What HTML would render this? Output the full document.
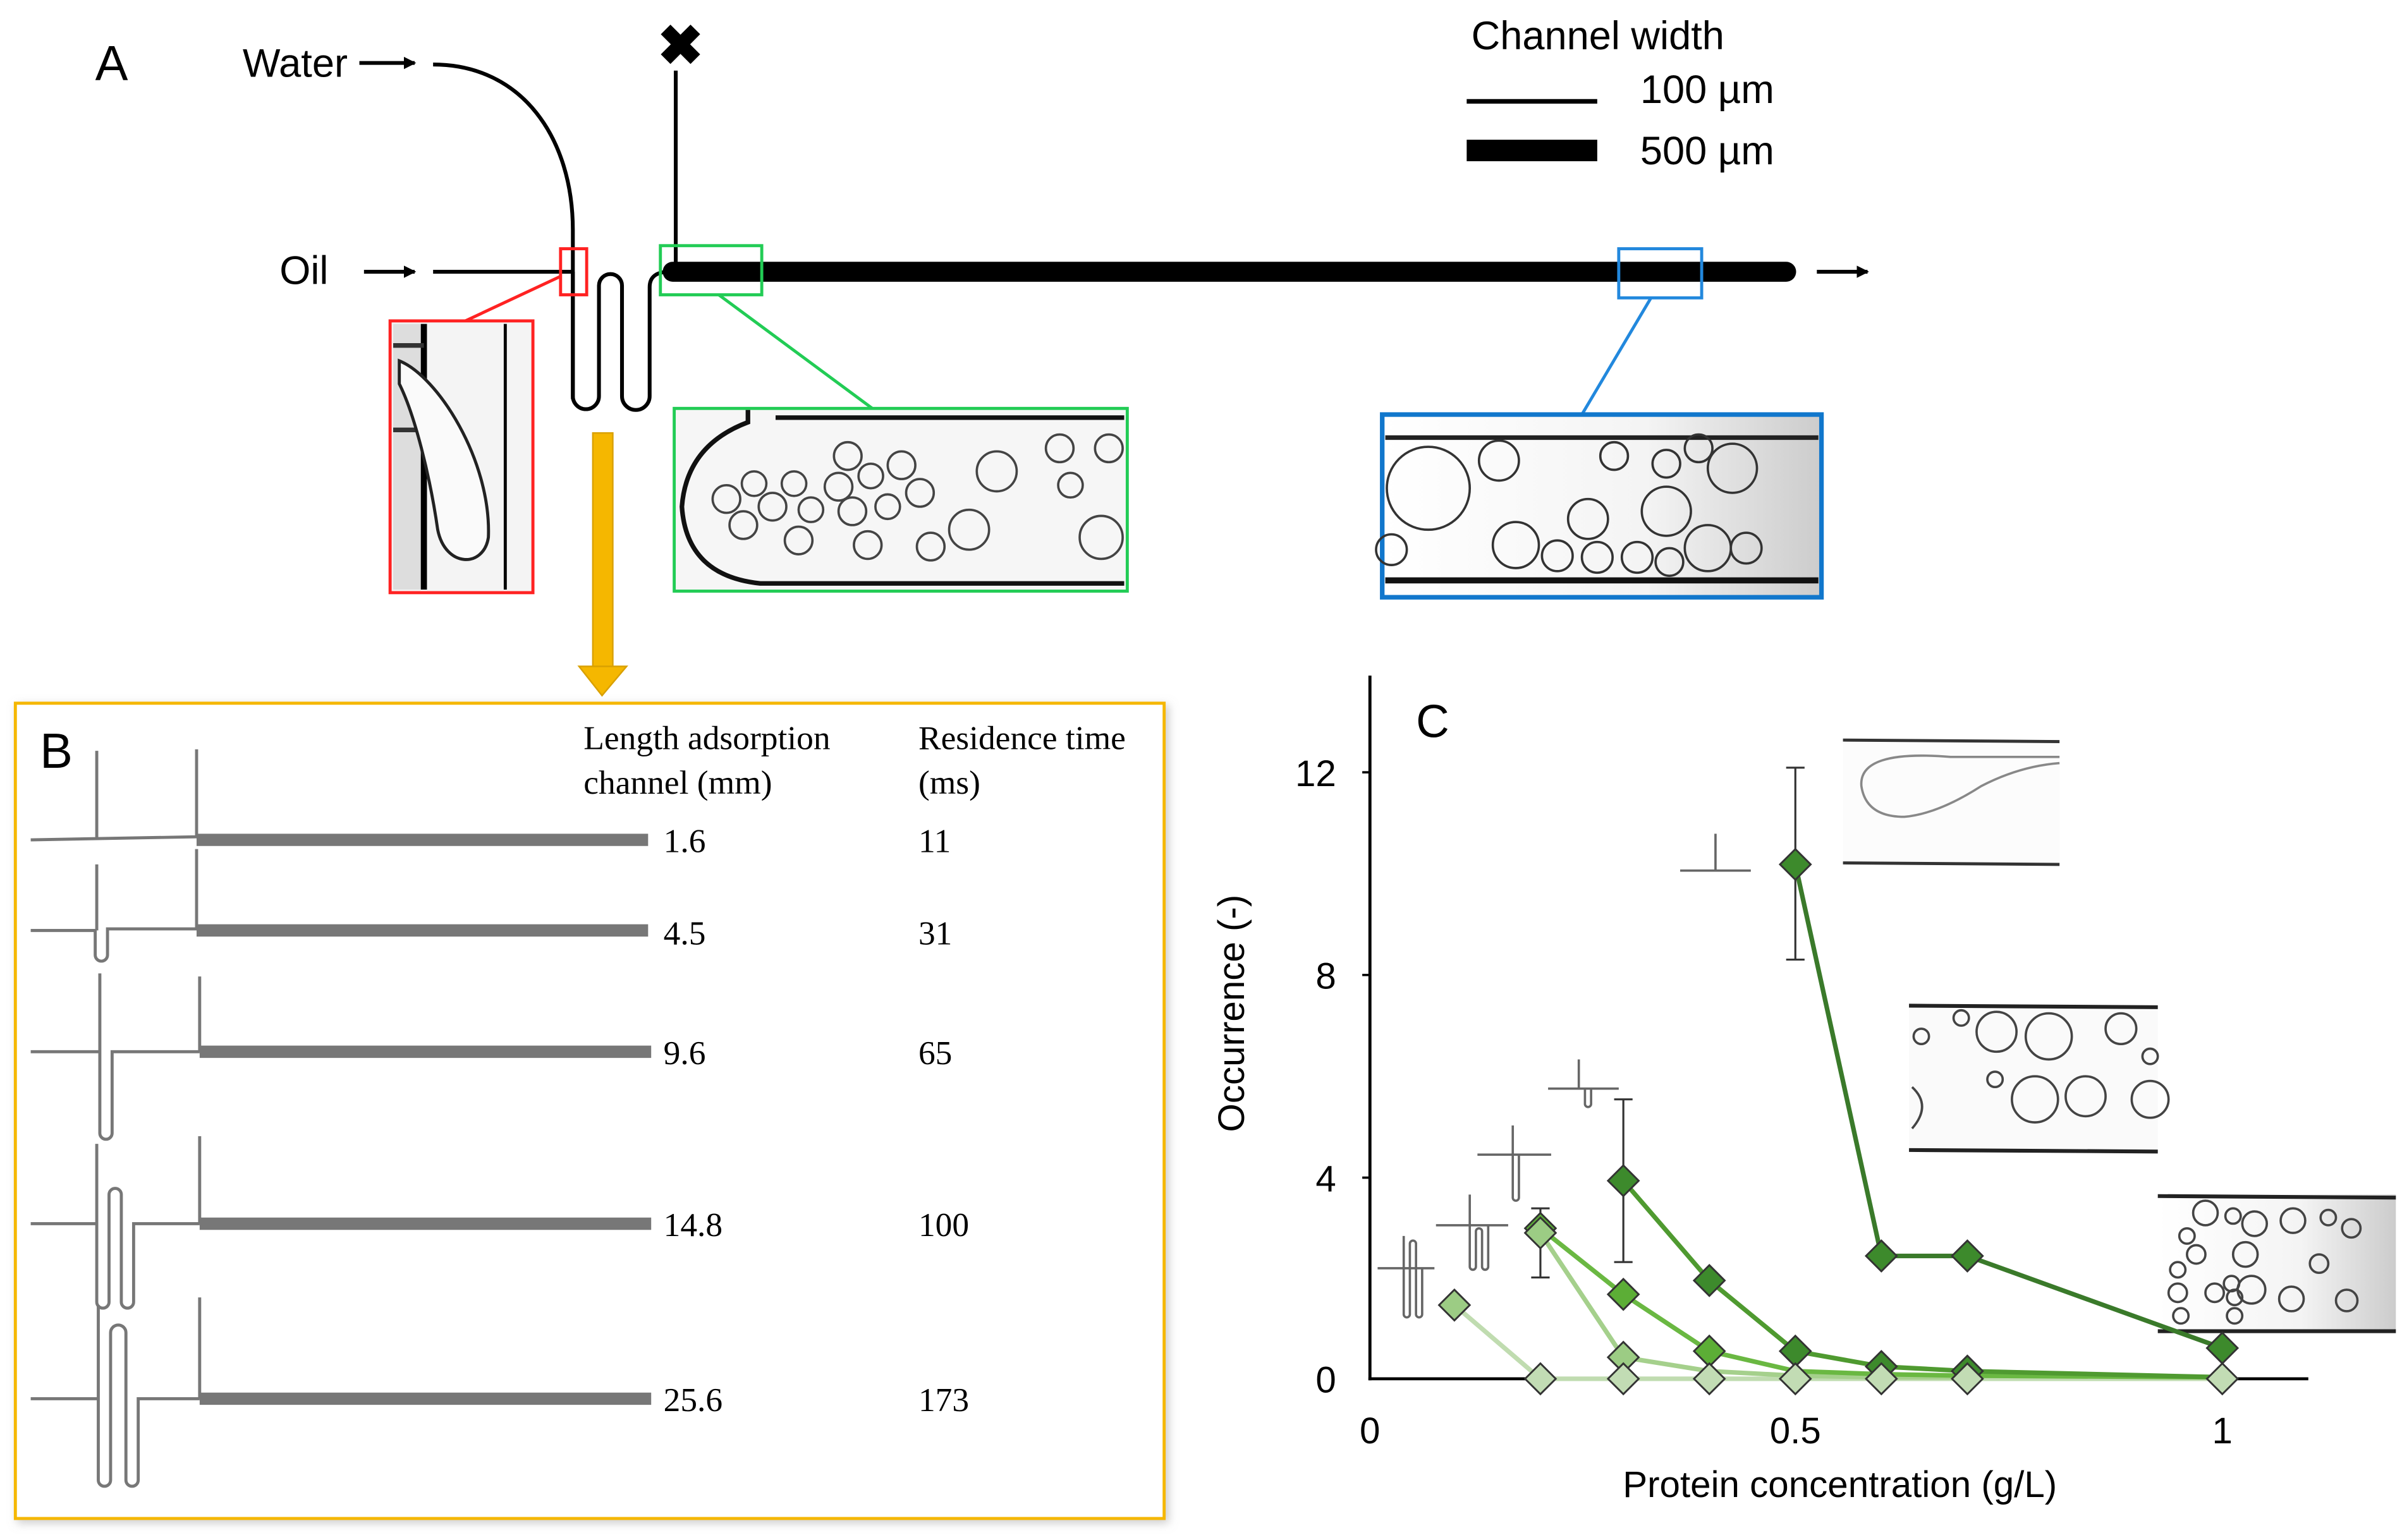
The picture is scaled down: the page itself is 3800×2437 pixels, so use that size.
<!DOCTYPE html>
<html><head><meta charset="utf-8"><style>
html,body{margin:0;padding:0;background:#fff;}
svg{display:block;}
text{font-family:"Liberation Sans",sans-serif;}
text.t,.t text{font-family:"Liberation Serif",serif;}
</style></head><body>
<svg width="3800" height="2437" viewBox="0 0 1564 1003" preserveAspectRatio="none" xmlns="http://www.w3.org/2000/svg">
<defs>
<marker id="ah" markerWidth="8" markerHeight="8" refX="7" refY="4" orient="auto" markerUnits="userSpaceOnUse"><path d="M0,0 L8,4 L0,8 z" fill="#000"/></marker>
<linearGradient id="gr" x1="0" x2="1"><stop offset="0" stop-color="#fff"/><stop offset="0.6" stop-color="#f4f4f4"/><stop offset="1" stop-color="#ccc"/></linearGradient>
<filter id="sh" x="-5%" y="-5%" width="110%" height="110%"><feDropShadow dx="2" dy="2" stdDeviation="3" flood-color="#999" flood-opacity="0.5"/></filter>
</defs>

<!-- Panel A -->
<text x="62" y="52" font-size="32">A</text>
<text x="158" y="50" font-size="26">Water</text>
<line x1="234" y1="41" x2="270" y2="41" stroke="#000" stroke-width="2.5" marker-end="url(#ah)"/>
<path d="M282,42 C340,42 373,90 373,150 V260" fill="none" stroke="#000" stroke-width="2.5"/>
<text x="428" y="42" font-size="36" font-weight="bold">✖</text>
<line x1="440" y1="46" x2="440" y2="177" stroke="#000" stroke-width="2.5"/>
<text x="182" y="185" font-size="26">Oil</text>
<line x1="237" y1="177" x2="270" y2="177" stroke="#000" stroke-width="2.5" marker-end="url(#ah)"/>
<line x1="282" y1="177" x2="373" y2="177" stroke="#000" stroke-width="2.5"/>
<path d="M373,177 V258 A8.5,8.5 0 0 0 390,258 V186 A7.5,7.5 0 0 1 405,186 V258 A9,9 0 0 0 423,258 V187 Q423,177 436,177" fill="none" stroke="#000" stroke-width="2.5"/>
<line x1="438" y1="177" x2="1163" y2="177" stroke="#000" stroke-width="13" stroke-linecap="round"/>
<line x1="1183" y1="177" x2="1216" y2="177" stroke="#000" stroke-width="2.5" marker-end="url(#ah)"/>

<!-- zoom boxes -->
<rect x="365" y="162" width="17" height="30" fill="none" stroke="#f22" stroke-width="2"/>
<line x1="365" y1="180" x2="303" y2="209" stroke="#f22" stroke-width="2"/>
<rect x="254" y="209" width="93" height="177" fill="#f4f4f4" stroke="#f22" stroke-width="2"/>
<rect x="256" y="211" width="20" height="173" fill="#ddd"/>
<line x1="276" y1="211" x2="276" y2="384" stroke="#000" stroke-width="4"/>
<line x1="329" y1="211" x2="329" y2="384" stroke="#000" stroke-width="2"/>
<line x1="256" y1="225" x2="276" y2="225" stroke="#333" stroke-width="3"/>
<line x1="256" y1="280" x2="276" y2="280" stroke="#333" stroke-width="3"/>
<path d="M260,235 C285,245 320,300 318,350 C315,370 290,370 285,345 C280,310 270,270 260,250 Z" fill="#fafafa" stroke="#222" stroke-width="2"/>

<rect x="430" y="160" width="66" height="32" fill="none" stroke="#2c5" stroke-width="2"/>
<line x1="468" y1="192" x2="568" y2="266" stroke="#2c5" stroke-width="2"/>
<rect x="439" y="266" width="295" height="119" fill="#f6f6f6" stroke="#2c5" stroke-width="2"/>
<path d="M505,272 H732 M487,267 V275 Q447,290 444,330 Q447,375 495,380 H732" fill="none" stroke="#111" stroke-width="3"/>
<g fill="none" stroke="#444" stroke-width="1.5">
<circle cx="552" cy="297" r="9"/><circle cx="587" cy="303" r="9"/><circle cx="649" cy="307" r="13"/><circle cx="690" cy="292" r="9"/><circle cx="722" cy="292" r="9"/><circle cx="697" cy="316" r="8"/>
<circle cx="491" cy="315" r="8"/><circle cx="517" cy="315" r="8"/><circle cx="546" cy="317" r="9"/><circle cx="567" cy="310" r="8"/><circle cx="599" cy="321" r="9"/>
<circle cx="473" cy="325" r="9"/><circle cx="503" cy="330" r="9"/><circle cx="528" cy="332" r="8"/><circle cx="555" cy="333" r="9"/><circle cx="578" cy="330" r="8"/><circle cx="631" cy="345" r="13"/>
<circle cx="484" cy="342" r="9"/><circle cx="520" cy="352" r="9"/><circle cx="565" cy="355" r="9"/><circle cx="606" cy="356" r="9"/><circle cx="717" cy="350" r="14"/>
</g>

<rect x="1054" y="162" width="54" height="32" fill="none" stroke="#28d" stroke-width="2"/>
<line x1="1075" y1="194" x2="1030" y2="270" stroke="#28d" stroke-width="2"/>
<rect x="900" y="270" width="286" height="119" fill="url(#gr)" stroke="#17c" stroke-width="3"/>
<line x1="902" y1="285" x2="1184" y2="285" stroke="#222" stroke-width="3"/>
<line x1="902" y1="378" x2="1184" y2="378" stroke="#111" stroke-width="4"/>
<g fill="none" stroke="#333" stroke-width="1.5">
<circle cx="930" cy="318" r="27"/><circle cx="976" cy="300" r="13"/><circle cx="1051" cy="297" r="9"/><circle cx="1085" cy="302" r="9"/><circle cx="1106" cy="292" r="9"/><circle cx="1128" cy="305" r="16"/>
<circle cx="1034" cy="338" r="13"/><circle cx="1085" cy="333" r="16"/><circle cx="987" cy="355" r="15"/><circle cx="1014" cy="362" r="10"/><circle cx="1040" cy="363" r="10"/><circle cx="1066" cy="363" r="10"/><circle cx="1087" cy="366" r="9"/><circle cx="1112" cy="357" r="15"/><circle cx="1137" cy="357" r="10"/><circle cx="906" cy="358" r="10"/>
</g>

<!-- legend -->
<text x="958" y="32" font-size="26">Channel width</text>
<line x1="955" y1="66" x2="1040" y2="66" stroke="#000" stroke-width="3"/>
<text x="1068" y="67" font-size="26">100 µm</text>
<rect x="955" y="91" width="85" height="14" fill="#000"/>
<text x="1068" y="107" font-size="26">500 µm</text>

<!-- yellow arrow -->
<rect x="386" y="282" width="13" height="154" fill="#f5b700" stroke="#d9a000" stroke-width="1"/>
<path d="M377,434 L408,434 L392,453 Z" fill="#f5b700" stroke="#d9a000" stroke-width="1"/>

<!-- Panel B -->
<rect x="10" y="458" width="748" height="531" fill="#fff" stroke="#f5b700" stroke-width="2" filter="url(#sh)"/>
<text x="26" y="500" font-size="32">B</text>
<text class="t" x="380" y="488" font-size="22">Length adsorption</text>
<text class="t" x="380" y="517" font-size="22">channel (mm)</text>
<text class="t" x="598" y="488" font-size="22">Residence time</text>
<text class="t" x="598" y="517" font-size="22">(ms)</text>
<g fill="none" stroke="#777" stroke-width="2">
<path d="M20,547 L128,545 M63,547 V489 M128,545 V488"/>
<path d="M20,606 H62 V622 A4,4 0 0 0 70,622 V605 H128 M63,606 V563 M128,605 V553"/>
<path d="M20,685 H65 V738 A4,4 0 0 0 73,738 V685 H130 M65,685 V634 M130,685 V636"/>
<path d="M20,797 H63 V848 A4,4 0 0 0 71,848 V778 A4,4 0 0 1 79,778 V848 A4,4 0 0 0 87,848 V797 H130 M63,797 V745 M130,797 V740"/>
<path d="M20,911 H64 V964 A4,4 0 0 0 72,964 V868 A5,5 0 0 1 82,868 V964 A4,4 0 0 0 90,964 V911 H130 M64,911 V850 M130,911 V845"/>
</g>
<g stroke="#777" stroke-width="8">
<line x1="128" y1="547" x2="422" y2="547"/>
<line x1="128" y1="606" x2="422" y2="606"/>
<line x1="130" y1="685" x2="424" y2="685"/>
<line x1="130" y1="797" x2="424" y2="797"/>
<line x1="130" y1="911" x2="424" y2="911"/>
</g>
<g class="t" font-size="22">
<text class="t" x="432" y="555">1.6</text><text class="t" x="598" y="555">11</text>
<text class="t" x="432" y="615">4.5</text><text class="t" x="598" y="615">31</text>
<text class="t" x="432" y="693">9.6</text><text class="t" x="598" y="693">65</text>
<text class="t" x="432" y="805">14.8</text><text class="t" x="598" y="805">100</text>
<text class="t" x="432" y="919">25.6</text><text class="t" x="598" y="919">173</text>
</g>

<!-- Panel C -->
<text x="922" y="480" font-size="30">C</text>
<line x1="892" y1="440" x2="892" y2="899" stroke="#000" stroke-width="2"/>
<line x1="891" y1="898" x2="1503" y2="898" stroke="#000" stroke-width="2"/>
<g font-size="24" text-anchor="end">
<text x="870" y="907">0</text><text x="870" y="776">4</text><text x="870" y="644">8</text><text x="870" y="512">12</text>
</g>
<g stroke="#000" stroke-width="1.5"><line x1="887" y1="767" x2="892" y2="767"/><line x1="887" y1="635" x2="892" y2="635"/><line x1="887" y1="503" x2="892" y2="503"/></g>
<g font-size="24" text-anchor="middle">
<text x="892" y="940">0</text><text x="1169" y="940">0.5</text><text x="1447" y="940">1</text>
<text x="1198" y="975">Protein concentration (g/L)</text>
</g>
<text transform="translate(810,660) rotate(-90)" font-size="24" text-anchor="middle">Occurrence (-)</text>

<g>
<rect x="1200" y="482" width="141" height="80" fill="#fcfcfc"/>
<line x1="1200" y1="482" x2="1341" y2="483" stroke="#333" stroke-width="2"/>
<line x1="1200" y1="562" x2="1341" y2="563" stroke="#333" stroke-width="2"/>
<path d="M1341,493 H1270 Q1210,488 1212,512 Q1215,532 1240,532 Q1262,530 1290,512 Q1315,499 1341,497" fill="none" stroke="#888" stroke-width="1.5"/>
</g>
<g>
<rect x="1243" y="655" width="162" height="95" fill="#fafafa"/>
<line x1="1243" y1="655" x2="1405" y2="656" stroke="#222" stroke-width="2.5"/>
<line x1="1243" y1="749" x2="1405" y2="750" stroke="#222" stroke-width="2.5"/>
<g fill="none" stroke="#444" stroke-width="1.5">
<circle cx="1251" cy="675" r="5"/><circle cx="1277" cy="663" r="5"/><circle cx="1300" cy="672" r="13"/><circle cx="1334" cy="675" r="15"/><circle cx="1381" cy="670" r="10"/><circle cx="1400" cy="688" r="5"/>
<circle cx="1299" cy="703" r="5"/><circle cx="1325" cy="716" r="15"/><circle cx="1358" cy="714" r="13"/><circle cx="1400" cy="716" r="12"/><path d="M1245,708 Q1258,720 1245,735"/>
</g>
</g>
<g>
<rect x="1405" y="778" width="155" height="90" fill="url(#gr)"/>
<line x1="1405" y1="779" x2="1560" y2="780" stroke="#222" stroke-width="2.5"/>
<line x1="1405" y1="867" x2="1560" y2="867" stroke="#222" stroke-width="2.5"/>
<g fill="none" stroke="#444" stroke-width="1.5">
<circle cx="1436" cy="790" r="8"/><circle cx="1454" cy="792" r="5"/><circle cx="1468" cy="797" r="8"/><circle cx="1493" cy="795" r="8"/><circle cx="1516" cy="793" r="5"/><circle cx="1531" cy="800" r="6"/>
<circle cx="1424" cy="805" r="5"/><circle cx="1430" cy="817" r="6"/><circle cx="1418" cy="827" r="5"/><circle cx="1462" cy="817" r="8"/><circle cx="1453" cy="836" r="5"/><circle cx="1510" cy="823" r="6"/>
<circle cx="1418" cy="842" r="6"/><circle cx="1442" cy="842" r="6"/><circle cx="1455" cy="845" r="5"/><circle cx="1466" cy="840" r="9"/><circle cx="1492" cy="846" r="8"/><circle cx="1528" cy="847" r="7"/><circle cx="1420" cy="857" r="5"/><circle cx="1455" cy="857" r="5"/>
</g>
</g>

<g fill="none" stroke="#666" stroke-width="1.5">
<path d="M1094,567 H1140 M1117,567 V543"/>
<path d="M1008,709 H1054 M1032,709 V719 A2,2 0 0 0 1036,719 V709 M1028,709 V690"/>
<path d="M962,752 H1010 M985,752 V780 A2,2 0 0 0 989,780 V752 M985,752 V733"/>
<path d="M935,798 H982 M957,798 V825 A2,2 0 0 0 961,825 V802 A2,2 0 0 1 965,802 V825 A2,2 0 0 0 969,825 V798 M957,798 V778"/>
<path d="M897,826 H934 M914,826 V856 A2,2 0 0 0 918,856 V810 A2,2 0 0 1 922,810 V856 A2,2 0 0 0 926,856 V826 M914,826 V805"/>
</g>

<g stroke="#333" stroke-width="1.3">
<line x1="1169" y1="500" x2="1169" y2="625"/><line x1="1163" y1="500" x2="1175" y2="500"/><line x1="1163" y1="625" x2="1175" y2="625"/>
<line x1="1057" y1="716" x2="1057" y2="822"/><line x1="1051" y1="716" x2="1063" y2="716"/><line x1="1051" y1="822" x2="1063" y2="822"/>
<line x1="1003" y1="787" x2="1003" y2="832"/><line x1="997" y1="787" x2="1009" y2="787"/><line x1="997" y1="832" x2="1009" y2="832"/>
</g>

<g fill="none" stroke-width="3" stroke-linejoin="round">
<polyline stroke="#c0dcb0" points="947,850 1003,898 1057,898 1113,898 1169,898 1225,898 1281,898 1447,898"/>
<polyline stroke="#a5d08c" points="1003,803 1057,884 1113,893 1169,896 1225,897 1281,897"/>
<polyline stroke="#6ab842" points="1003,800 1057,843 1113,880 1169,893 1225,895 1281,896 1447,897"/>
<polyline stroke="#4f9a30" points="1057,769 1113,834 1169,880 1225,890 1281,893 1447,897"/>
<polyline stroke="#3a7a2a" points="1169,563 1225,818 1281,818 1447,878"/>
</g>
<g stroke="#333" stroke-width="1.2">
<g fill="#3d8a2c">
<path d="M1169,553 l10,10 -10,10 -10,-10z"/><path d="M1225,808 l10,10 -10,10 -10,-10z"/><path d="M1281,808 l10,10 -10,10 -10,-10z"/><path d="M1447,868 l10,10 -10,10 -10,-10z"/>
<path d="M1057,759 l10,10 -10,10 -10,-10z"/><path d="M1113,824 l10,10 -10,10 -10,-10z"/><path d="M1169,870 l10,10 -10,10 -10,-10z"/><path d="M1225,880 l10,10 -10,10 -10,-10z"/><path d="M1281,883 l10,10 -10,10 -10,-10z"/>
</g>
<g fill="#5cae36">
<path d="M1057,833 l10,10 -10,10 -10,-10z"/><path d="M1113,870 l10,10 -10,10 -10,-10z"/><path d="M1003,790 l10,10 -10,10 -10,-10z"/>
</g>
<g fill="#9ccc84">
<path d="M1003,793 l10,10 -10,10 -10,-10z"/><path d="M1057,874 l10,10 -10,10 -10,-10z"/><path d="M947,840 l10,10 -10,10 -10,-10z"/>
</g>
<g fill="#c2dcb4">
<path d="M1003,888 l10,10 -10,10 -10,-10z"/><path d="M1057,888 l10,10 -10,10 -10,-10z"/><path d="M1113,888 l10,10 -10,10 -10,-10z"/><path d="M1169,888 l10,10 -10,10 -10,-10z"/><path d="M1225,888 l10,10 -10,10 -10,-10z"/><path d="M1281,888 l10,10 -10,10 -10,-10z"/><path d="M1447,888 l10,10 -10,10 -10,-10z"/>
</g>
</g>
</svg>
</body></html>
